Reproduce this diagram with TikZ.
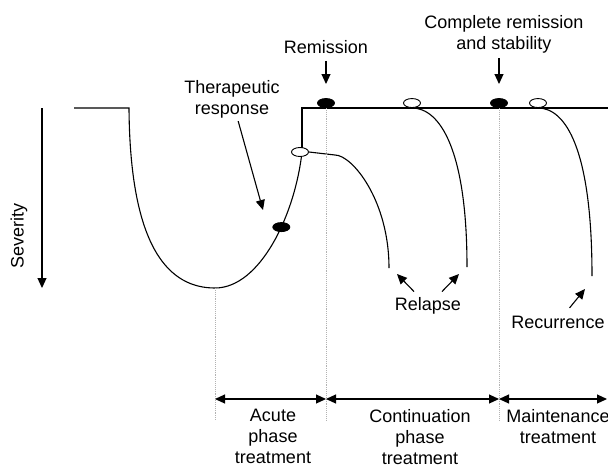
\documentclass[tikz,border=0pt]{standalone}
\usepackage{fontspec}
\setmainfont{Liberation Sans}
\usetikzlibrary{arrows.meta, shapes.geometric, calc}

\tikzset{
  course/.style={black, line width=1.1pt},
  guide/.style={gray!60, densely dotted, line width=0.9pt},
  pointer/.style={black, line width=1.1pt, -{Triangle[length=10pt,width=9pt]}},
  span/.style={black, line width=1.1pt, {Triangle[length=10pt,width=9pt]}-{Triangle[length=10pt,width=9pt]}},
  reached/.style={ellipse, draw, fill=black, line width=0.9pt, minimum width=17pt, minimum height=9pt, inner sep=0pt},
  lapsed/.style={ellipse, draw, fill=white, line width=0.9pt, minimum width=17pt, minimum height=9pt, inner sep=0pt},
  lbl/.style={font=\fontsize{18}{21}\selectfont, align=center, inner sep=3pt}
}

\begin{document}
\begin{tikzpicture}[x=1pt,y=-1pt]
\useasboundingbox (0,0) rectangle (608,464);

% set levels of the course
\pgfmathsetmacro{\ywell}{108}
\pgfmathsetmacro{\yworst}{288}
\pgfmathsetmacro{\yspan}{399}
\pgfmathsetmacro{\yfoot}{420}

% set phase borders
\pgfmathsetmacro{\xacute}{215}
\pgfmathsetmacro{\xrem}{326}
\pgfmathsetmacro{\xstab}{499}

% severity axis
\draw[pointer] (42,\ywell) -- (42,\yworst) coordinate (sevtip);
\node[lbl, rotate=90] (severity) at (19,236) {Severity};

% episode and acute phase
\draw[course] (74,\ywell) -- (129,\ywell)
  .. controls (130,250) and (170,\yworst) .. (\xacute,\yworst) coordinate (low)
  .. controls (260,\yworst) and (295,215) .. (302,152) node[reached, pos=0.6] (respdot) {};
\node[lapsed] (early) at (300,152) {};
\draw[course] (302,148) -- (302,\ywell) -- (608,\ywell);

% relapses during continuation
\draw[course] (early.east) -- (335,155) .. controls (352,155) and (389,200) .. (389,268) coordinate (rel1);
\draw[course] (412,\ywell) .. controls (440,\ywell) and (467,150) .. (467,267) coordinate (rel2);
\node[lapsed, anchor=south] (late) at (412,\ywell) {};

% recurrence during maintenance
\draw[course] (538,\ywell) .. controls (566,\ywell) and (592,150) .. (592,276) coordinate (rec);
\node[lapsed, anchor=south] (recdot) at (538,\ywell) {};

% remission points
\node[reached, anchor=south] (remdot) at (\xrem,\ywell) {};
\node[reached, anchor=south] (stabdot) at (\xstab,\ywell) {};

% phase borders
\draw[guide] (low) -- (\xacute,\yfoot);
\draw[guide] (\xrem,\ywell) -- (\xrem,\yfoot);
\draw[guide] (\xstab,\ywell) -- (\xstab,\yfoot);

% phase spans
\coordinate (s0) at (\xacute,\yspan);
\coordinate (s1) at (\xrem,\yspan);
\coordinate (s2) at (\xstab,\yspan);
\coordinate (s3) at (607,\yspan);
\draw[span] (s0) -- (s1);
\draw[span] (s1) -- (s2);
\draw[span] (s2) -- (s3);

% phase labels
\node[lbl, anchor=north] (acute) at (273,406) {Acute\\phase\\treatment};
\node[lbl, anchor=north] (cont) at (420,406) {Continuation\\phase\\treatment};
\node[lbl, anchor=north] (maint) at (558,406) {Maintenance\\treatment};

% event labels and their pointers
\node[lbl] (remission) at (\xrem,47) {Remission};
\coordinate (remtip) at (\xrem,84);
\draw[pointer, shorten <=4pt] (remission) -- (remtip);

\node[lbl] (stability) at (504,34) {Complete remission\\and stability};
\coordinate (stabtip) at (\xstab,84);
\draw[pointer, shorten <=2pt] (stability.south -| stabtip) -- (stabtip);

\node[lbl] (response) at (232,99) {Therapeutic\\response};
\coordinate (resptip) at (263,210);
\draw[pointer] (response) -- (resptip);

\node[lbl] (relapse) at (428,306) {Relapse};
\coordinate (reltip1) at (397,274);
\coordinate (reltip2) at (459,274);
\draw[pointer, shorten <=4pt] (relapse) -- (reltip1);
\draw[pointer, shorten <=4pt] (relapse) -- (reltip2);

\node[lbl] (recurrence) at (558,322) {Recurrence};
\coordinate (rectip) at (585,289);
\draw[pointer, shorten <=6pt] (recurrence) -- (rectip);

\end{tikzpicture}
\end{document}
